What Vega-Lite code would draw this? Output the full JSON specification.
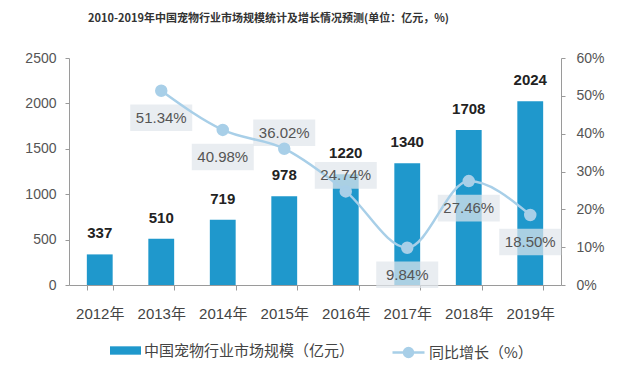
{
  "$schema": "https://vega.github.io/schema/vega-lite/v6.json",
  "width": 492,
  "height": 227,
  "autosize": {"type": "none"},
  "padding": {"left": 69, "top": 58, "right": 79, "bottom": 96},
  "background": "white",
  "config": {
    "view": {"stroke": null},
    "font": "Liberation Sans, Noto Sans CJK SC",
    "axis": {
      "domainColor": "#9a9a9a",
      "tickColor": "#9a9a9a",
      "labelColor": "#555555",
      "labelFontSize": 14,
      "labelFont": "Liberation Sans, Noto Sans CJK SC",
      "grid": false,
      "tickSize": 4,
      "title": null
    }
  },
  "title": {
    "text": "2010-2019年中国宠物行业市场规模统计及增长情况预测(单位：亿元，%)",
    "anchor": "start",
    "frame": "group",
    "dx": 19,
    "offset": 27,
    "fontSize": 11,
    "font": "Noto Sans CJK SC",
    "fontWeight": "bold",
    "color": "#333333"
  },
  "data": {
    "values": [
      {"year": "2012年", "size": 337, "growth": null},
      {"year": "2013年", "size": 510, "growth": 0.5134},
      {"year": "2014年", "size": 719, "growth": 0.4098},
      {"year": "2015年", "size": 978, "growth": 0.3602},
      {"year": "2016年", "size": 1220, "growth": 0.2474},
      {"year": "2017年", "size": 1340, "growth": 0.0984},
      {"year": "2018年", "size": 1708, "growth": 0.2746},
      {"year": "2019年", "size": 2024, "growth": 0.185}
    ]
  },
  "encoding": {
    "x": {
      "field": "year",
      "type": "ordinal",
      "sort": null,
      "scale": {"paddingInner": 0.58, "paddingOuter": 0.29},
      "axis": {"labelAngle": 0, "tickBand": "extent", "labelPadding": 16, "tickSize": 5, "labelFontSize": 15, "labelColor": "#444444"}
    }
  },
  "layer": [
    {
      "encoding": {
        "y": {
          "field": "size",
          "type": "quantitative",
          "scale": {"domain": [0, 2500]},
          "axis": {"orient": "left", "format": "d", "values": [0, 500, 1000, 1500, 2000, 2500], "labelPadding": 9}
        }
      },
      "layer": [
        {
          "mark": {"type": "bar"},
          "encoding": {
            "fill": {
              "datum": "中国宠物行业市场规模（亿元）",
              "scale": {"range": ["#1f98cc"]},
              "legend": {
                "orient": "none",
                "legendX": 41,
                "legendY": 277,
                "title": null,
                "symbolType": "M-1,-0.27H1V0.27H-1Z",
                "symbolSize": 961,
                "symbolStrokeWidth": 0,
                "labelFontSize": 15,
                "labelColor": "#444444",
                "labelFont": "Noto Sans CJK SC",
                "labelOffset": 3,
                "labelLimit": 400
              }
            }
          }
        },
        {
          "mark": {"type": "text", "baseline": "bottom", "dy": -13, "fontSize": 15, "fontWeight": "bold", "color": "#222222"},
          "encoding": {"text": {"field": "size", "type": "quantitative"}}
        }
      ]
    },
    {
      "transform": [{"filter": "datum.growth != null"}],
      "encoding": {
        "y": {
          "field": "growth",
          "type": "quantitative",
          "scale": {"domain": [0, 0.6]},
          "axis": {"orient": "right", "format": ".0%", "values": [0, 0.1, 0.2, 0.3, 0.4, 0.5, 0.6], "labelPadding": 11}
        }
      },
      "layer": [
        {
          "transform": [{"filter": "indexof(['2015年','2016年'], datum.year) < 0"}],
          "mark": {"type": "point", "shape": "M-1,-0.43H1V0.43H-1Z", "size": 3844, "filled": true, "fill": "#e1e6ec", "opacity": 0.72, "strokeWidth": 0, "yOffset": 27}
        },
        {
          "transform": [{"filter": "indexof(['2015年','2016年'], datum.year) >= 0"}],
          "mark": {"type": "point", "shape": "M-1,-0.43H1V0.43H-1Z", "size": 3844, "filled": true, "fill": "#e1e6ec", "opacity": 0.72, "strokeWidth": 0, "yOffset": -16}
        },
        {
          "mark": {
            "type": "line",
            "interpolate": "monotone",
            "strokeWidth": 2.5,
            "point": {"filled": true, "fill": "#a8cfe8", "size": 110}
          },
          "encoding": {
            "stroke": {
              "datum": "同比增长（%）",
              "scale": {"range": ["#a8cfe8"]},
              "legend": {
                "orient": "none",
                "legendX": 322,
                "legendY": 277,
                "title": null,
                "symbolType": "M-1,0H1M-0.28,0A0.28,0.28,0,1,0,0.28,0A0.28,0.28,0,1,0,-0.28,0",
                "symbolSize": 1024,
                "symbolFillColor": "#a8cfe8",
                "symbolStrokeColor": "#a8cfe8",
                "symbolStrokeWidth": 2.5,
                "labelFontSize": 15,
                "labelColor": "#444444",
                "labelFont": "Noto Sans CJK SC",
                "labelOffset": 3,
                "labelLimit": 400
              }
            }
          }
        },
        {
          "transform": [{"filter": "indexof(['2015年','2016年'], datum.year) < 0"}],
          "mark": {"type": "text", "baseline": "middle", "dy": 27, "fontSize": 15, "color": "#555555"},
          "encoding": {"text": {"field": "growth", "type": "quantitative", "format": ".2%"}}
        },
        {
          "transform": [{"filter": "indexof(['2015年','2016年'], datum.year) >= 0"}],
          "mark": {"type": "text", "baseline": "middle", "dy": -16, "fontSize": 15, "color": "#555555"},
          "encoding": {"text": {"field": "growth", "type": "quantitative", "format": ".2%"}}
        }
      ]
    }
  ],
  "resolve": {"scale": {"y": "independent"}}
}
